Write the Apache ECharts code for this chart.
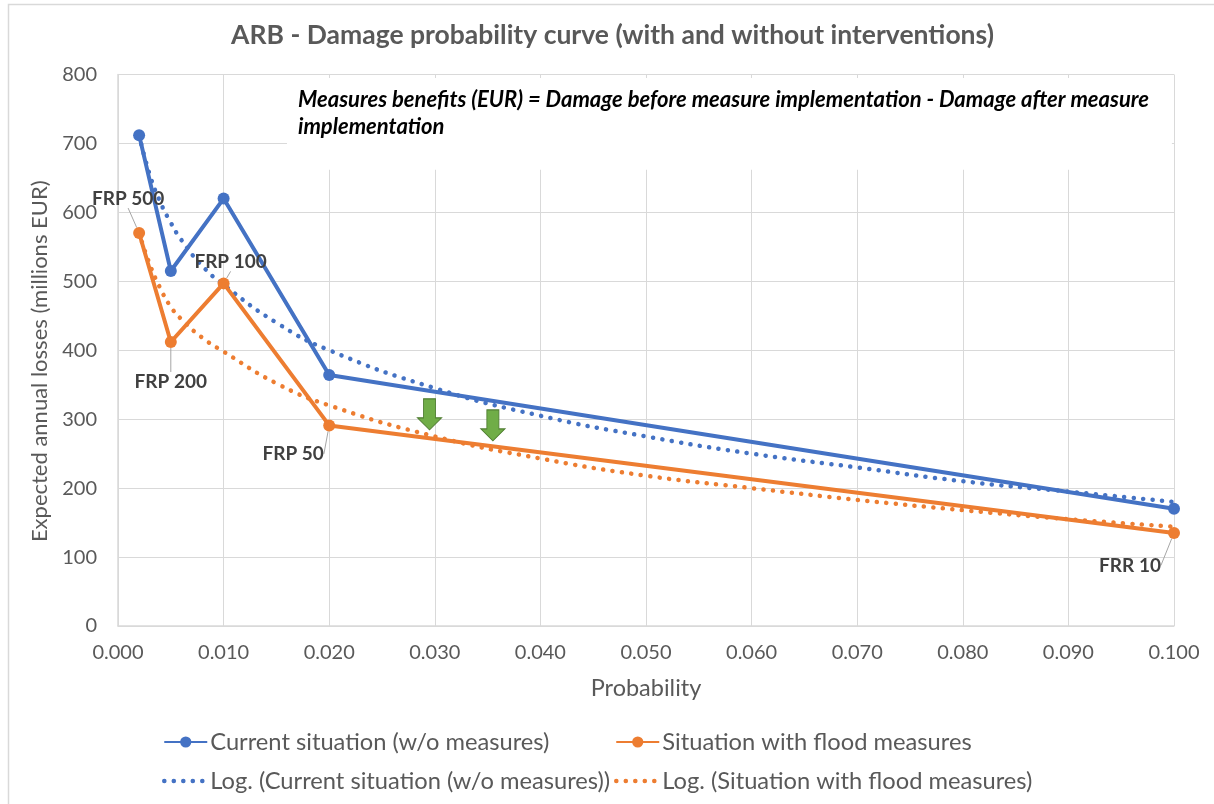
<!DOCTYPE html>
<html>
<head>
<meta charset="utf-8">
<style>
  html, body { margin: 0; padding: 0; background: #fff; }
  #chart { width: 1214px; height: 804px; }
</style>
<script src="https://cdn.jsdelivr.net/npm/echarts@6/dist/echarts.min.js"></script>
</head>
<body>
<div id="chart"></div>
<script>
const probabilities = [0.002, 0.005, 0.01, 0.02, 0.1];
const currentLosses = [712, 515, 620, 364, 170];
const measureLosses = [570, 412, 497, 291, 135];
const pointLabels = ["FRP 500", "FRP 200", "FRP 100", "FRP 50", "FRR 10"];

// dotted trend lines
const trendX = [0.002, 0.003, 0.004, 0.005, 0.006, 0.008, 0.01, 0.015, 0.02, 0.03, 0.04, 0.05, 0.06, 0.07, 0.08, 0.09, 0.1];
const currentTrend = [712, 655, 615, 585, 560, 522, 495, 440, 400, 345, 305, 275, 250, 230, 210, 195, 180];
const measureTrend = [570, 525, 490, 463, 445, 418, 398, 352, 320, 275, 243, 218, 200, 183, 168, 155, 144];

const arrowPoints = [[0.0295, 307], [0.0355, 291]];

const FONT = "Lato";
const BLUE = "#4472c4";
const ORANGE = "#ed7d31";
const GRID = "#d9d9d9";
const TEXT = "#595959";
const DOTS = [0.1, 9.4];

const zip = (xs, ys) => xs.map((x, i) => [x, ys[i]]);

// label offsets from the default spot above each point
const labelOffsets = [[-11, -14], [0, 60], [7, -1], [-36, 49], [-44, 53]];

const legendBase = {
  top: 730,
  orient: "vertical",
  padding: 0,
  itemWidth: 43,
  itemHeight: 14,
  itemGap: 15,
  textStyle: { fontSize: 23.7, color: TEXT, fontFamily: FONT, padding: [0, 0, 0, -2] },
};

// the trend lines have no marker, so hide the one the legend adds
const dottedLegendItem = (name) => ({
  name,
  itemStyle: { opacity: 0 },
  lineStyle: { width: 4.5, type: DOTS, cap: "round" },
});

const chart = echarts.init(document.getElementById("chart"), null, { renderer: "canvas" });

chart.setOption({
  backgroundColor: "#fff",
  animation: false,
  textStyle: { fontFamily: FONT },
  title: {
    text: "ARB - Damage probability curve (with and without interventions)",
    left: 607.5,
    top: 17,
    textAlign: "center",
    textStyle: { fontFamily: FONT, fontSize: 26.5, fontWeight: "bold", color: TEXT },
  },
  grid: { left: 118, right: 40, top: 74.5, bottom: 178 },
  xAxis: {
    type: "value",
    min: 0,
    max: 0.1,
    interval: 0.01,
    name: "Probability",
    nameLocation: "middle",
    nameGap: 50,
    nameTextStyle: { fontSize: 23.5, color: TEXT, fontFamily: FONT },
    axisLine: { lineStyle: { color: GRID, width: 1.5 } },
    axisTick: { show: false },
    axisLabel: {
      fontSize: 20,
      color: TEXT,
      margin: 17,
      formatter: (v) => v.toFixed(3),
    },
    splitLine: { show: true, lineStyle: { color: GRID, width: 1 } },
  },
  yAxis: {
    type: "value",
    min: 0,
    max: 800,
    interval: 100,
    name: "Expected annual losses (millions EUR)",
    nameLocation: "middle",
    nameGap: 56,
    nameTextStyle: { fontSize: 22, color: TEXT, fontFamily: FONT, padding: [0, 22, 0, 0] },
    axisLine: { show: true, lineStyle: { color: GRID, width: 1.5 } },
    axisTick: { show: false },
    axisLabel: { fontSize: 20, color: TEXT, margin: 21 },
    splitLine: { show: true, lineStyle: { color: GRID, width: 1 } },
  },
  legend: [
    {
      ...legendBase,
      left: 162,
      data: ["Current situation (w/o measures)", dottedLegendItem("Log. (Current situation (w/o measures))")],
    },
    {
      ...legendBase,
      left: 614,
      data: ["Situation with flood measures", dottedLegendItem("Log. (Situation with flood measures)")],
    },
  ],
  graphic: [
    {
      type: "rect",
      silent: true,
      z: 100,
      shape: { x: 8.5, y: 4.5, width: 1300, height: 900 },
      style: { fill: "none", stroke: "#d9d9d9", lineWidth: 1.5 },
    },
    {
      type: "text",
      z: 100,
      left: 298,
      top: 86,
      style: {
        text: "Measures benefits (EUR) = Damage before measure implementation - Damage after measure\nimplementation",
        font: "italic bold 22px Lato",
        lineHeight: 27,
        fill: "#000",
      },
    },
  ],
  series: [
    {
      // white text box sits on top of the gridlines but under the lines
      type: "line",
      z: 1,
      silent: true,
      data: [],
      markArea: {
        silent: true,
        itemStyle: { color: "#fff" },
        data: [[{ coord: [0.016, 795] }, { coord: [0.0998, 662] }]],
      },
    },
    {
      name: "Log. (Current situation (w/o measures))",
      type: "line",
      z: 3,
      smooth: true,
      showSymbol: false,
      symbol: "none",
      data: zip(trendX, currentTrend),
      lineStyle: { color: BLUE, width: 4.5, type: DOTS, cap: "round" },
      itemStyle: { color: BLUE },
    },
    {
      name: "Log. (Situation with flood measures)",
      type: "line",
      z: 3,
      smooth: true,
      showSymbol: false,
      symbol: "none",
      data: zip(trendX, measureTrend),
      lineStyle: { color: ORANGE, width: 4.5, type: DOTS, cap: "round" },
      itemStyle: { color: ORANGE },
    },
    {
      name: "Current situation (w/o measures)",
      type: "line",
      z: 4,
      symbol: "circle",
      symbolSize: 12,
      data: zip(probabilities, currentLosses),
      lineStyle: { color: BLUE, width: 4 },
      itemStyle: { color: BLUE },
    },
    {
      name: "Situation with flood measures",
      type: "line",
      z: 4,
      symbol: "circle",
      symbolSize: 12,
      data: zip(probabilities, measureLosses).map((p, i) => ({
        value: p,
        label: { show: true, formatter: pointLabels[i] },
      })),
      lineStyle: { color: ORANGE, width: 4 },
      itemStyle: { color: ORANGE },
      label: {
        position: "top",
        fontFamily: FONT,
        fontSize: 19,
        fontWeight: "bold",
        color: "#404040",
      },
      labelLine: { show: true, lineStyle: { color: "#a6a6a6", width: 1 } },
      labelLayout: (params) => ({
        dx: labelOffsets[params.dataIndex][0],
        dy: labelOffsets[params.dataIndex][1],
      }),
    },
    {
      // green arrows between the two curves
      type: "scatter",
      z: 5,
      silent: true,
      data: arrowPoints,
      symbol: "path://M6 0 H18 V19 H24 L12 31 L0 19 H6 Z",
      symbolSize: [24, 31],
      itemStyle: { color: "#70ad47", borderColor: "#507e32", borderWidth: 1, opacity: 1 },
    },
  ],
});
</script>
</body>
</html>
